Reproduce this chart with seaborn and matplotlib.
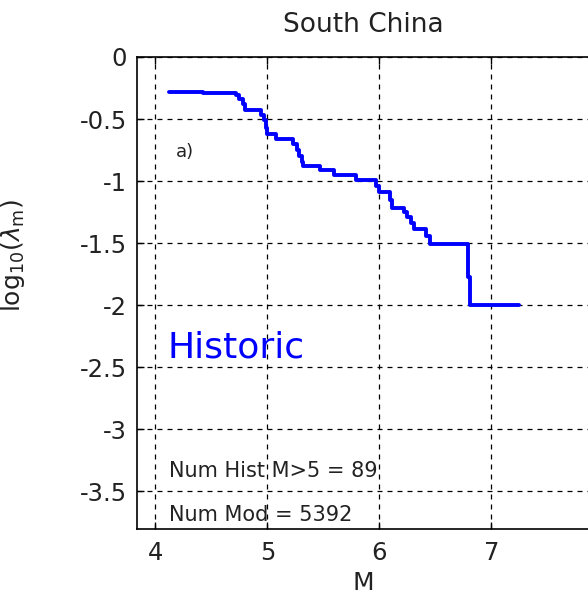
import numpy as np
import pandas as pd
import matplotlib
matplotlib.use("Agg")
import matplotlib.pyplot as plt
from matplotlib.ticker import FuncFormatter
import seaborn as sns

# Cumulative rate of historic events: magnitude where each level starts, and log10 rate
magnitudes = [4.12, 4.42, 4.72, 4.75, 4.78, 4.80, 4.94, 4.97, 4.99, 5.00,
              5.08, 5.23, 5.26, 5.28, 5.31, 5.32, 5.47, 5.59, 5.79, 5.97,
              6.00, 6.09, 6.11, 6.22, 6.25, 6.28, 6.31, 6.42, 6.45, 6.79,
              6.81, 7.25]
log_rates = [-0.28, -0.29, -0.31, -0.34, -0.38, -0.43, -0.47, -0.51, -0.57, -0.62,
             -0.66, -0.70, -0.75, -0.80, -0.85, -0.88, -0.91, -0.95, -0.99, -1.04,
             -1.09, -1.15, -1.22, -1.25, -1.29, -1.34, -1.39, -1.44, -1.51, -1.77,
             -2.00, -2.00]

x_ticks = [4, 5, 6, 7]
y_ticks = [0, -0.5, -1, -1.5, -2, -2.5, -3, -3.5]

title = "South China"
panel_label = "a)"
series_label = "Historic"
num_hist = 89
num_mod = 5392

sns.set_style("white")
plt.rcParams["font.family"] = ["DejaVu Sans"]
plt.rcParams["axes.unicode_minus"] = False

df = pd.DataFrame({"M": magnitudes, "log_rate": log_rates})

fig = plt.figure(figsize=(5.88, 6.01), dpi=100)
W, H = 588, 601
left, right, top, bottom = 137, 590, 57, 529
ax = fig.add_axes([left / W, 1 - bottom / H, (right - left) / W, (bottom - top) / H])

sns.lineplot(data=df, x="M", y="log_rate", ax=ax, color="#0000ff", linewidth=2.8,
             drawstyle="steps-post", estimator=None, sort=False, zorder=3)

ax.set_xlim(3.835, 7.88)
ax.set_ylim(-3.806, 0)
ax.set_xticks(x_ticks)
ax.set_yticks(y_ticks)
ax.yaxis.set_major_formatter(FuncFormatter(lambda v, p: "%g" % v))

ax.grid(True, color="black", linestyle=(0, (4, 4)), linewidth=0.9)
for s in ["left", "bottom", "top"]:
    ax.spines[s].set_visible(True)
    ax.spines[s].set_color("black")
    ax.spines[s].set_linewidth(1.2)
ax.spines["right"].set_visible(False)

ax.tick_params(axis="both", direction="in", length=5, width=1, colors="black",
               labelsize=17.5, top=True, left=True, bottom=True)
ax.tick_params(axis="x", pad=9)
ax.tick_params(axis="y", pad=7)
for lbl in ax.get_xticklabels() + ax.get_yticklabels():
    lbl.set_color("#222222")

ax.set_title(title, fontsize=19, pad=18, color="#222222")
ax.set_xlabel("M", fontsize=18, color="#222222", labelpad=4)
ax.set_ylabel(r"log$_{10}$($\lambda_{\rm m}$)", fontsize=18, color="#222222")
ax.yaxis.set_label_coords(-0.243, 0.58)

ax.text(4.18, -0.77, panel_label, fontsize=13, color="#222222", va="center", ha="left")
ax.text(4.11, -2.42, series_label, fontsize=26, color="#0000ff", va="baseline", ha="left")
ax.text(4.12, -3.34, f"Num Hist M>5 = {num_hist}", fontsize=15, color="#222222",
        va="center", ha="left")
ax.text(4.12, -3.69, f"Num Mod = {num_mod}", fontsize=15, color="#222222",
        va="center", ha="left")

fig.savefig("out.png", dpi=100)
